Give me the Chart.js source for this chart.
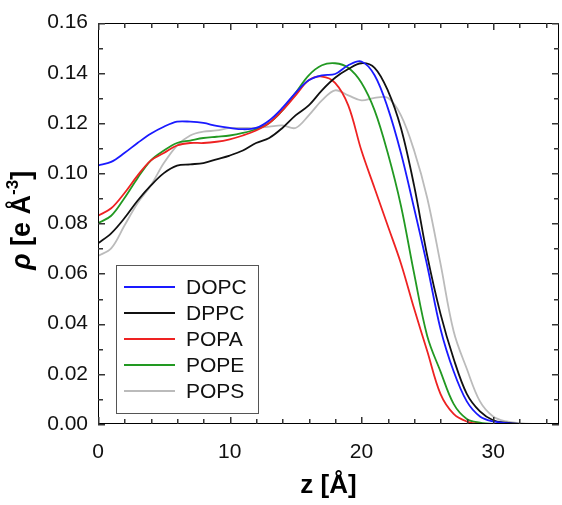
<!DOCTYPE html>
<html>
<head>
<meta charset="utf-8">
<script src="https://cdn.jsdelivr.net/npm/chart.js@4.4.1/dist/chart.umd.min.js"></script>
<style>
  html, body { margin: 0; padding: 0; background: #fff; }
  #wrap { width: 562px; height: 505px; }
</style>
</head>
<body>
<div id="wrap"><canvas id="densityChart" width="562" height="505"></canvas></div>
<script>
// z positions (Angstrom)
const z = [0, 1, 2, 3, 4, 5, 6, 7, 8, 9, 10, 11, 12, 13, 14, 15, 16, 17,
           18, 19, 20, 21, 22, 23, 24, 25, 26, 27, 28, 29, 30, 31, 32, 33, 34, 35];

// electron density profiles
const dopc = [0.103, 0.1045, 0.108, 0.112, 0.1157, 0.1185, 0.1205, 0.1205, 0.120, 0.1188,
              0.118, 0.1175, 0.118, 0.121, 0.126, 0.132, 0.137, 0.139, 0.1395, 0.143,
              0.1445, 0.139, 0.126, 0.108, 0.086, 0.063, 0.038, 0.021, 0.009, 0.003,
              0.001, 0.0003, 0, 0, 0, 0];
const dppc = [0.072, 0.076, 0.082, 0.089, 0.095, 0.100, 0.103, 0.1035, 0.104, 0.1055,
              0.107, 0.109, 0.112, 0.114, 0.118, 0.123, 0.127, 0.133, 0.138, 0.1415,
              0.1438, 0.142, 0.133, 0.118, 0.095, 0.067, 0.044, 0.026, 0.012, 0.005,
              0.0015, 0.0005, 0, 0, 0, 0];
const popa = [0.083, 0.086, 0.092, 0.099, 0.105, 0.108, 0.111, 0.112, 0.112, 0.1125,
              0.1135, 0.115, 0.117, 0.120, 0.125, 0.131, 0.137, 0.1385, 0.136, 0.127,
              0.109, 0.094, 0.079, 0.064, 0.046, 0.029, 0.012, 0.004, 0.001, 0,
              0, 0, 0, 0, 0, 0];
const pope = [0.080, 0.083, 0.090, 0.098, 0.105, 0.109, 0.112, 0.113, 0.114, 0.1145,
              0.115, 0.116, 0.1175, 0.120, 0.125, 0.132, 0.139, 0.143, 0.1438, 0.142,
              0.136, 0.125, 0.108, 0.087, 0.060, 0.035, 0.021, 0.008, 0.002, 0.0005,
              0, 0, 0, 0, 0, 0];
const pops = [0.067, 0.070, 0.079, 0.088, 0.095, 0.104, 0.111, 0.115, 0.1165, 0.117,
              0.118, 0.118, 0.118, 0.1185, 0.119, 0.118, 0.123, 0.129, 0.133, 0.131,
              0.129, 0.130, 0.130, 0.123, 0.109, 0.090, 0.064, 0.037, 0.022, 0.009,
              0.003, 0.001, 0.0003, 0, 0, 0];

const seriesNames = ['DOPC', 'DPPC', 'POPA', 'POPE', 'POPS'];
const seriesColors = ['#1a1aff', '#111111', '#ee2222', '#229922', '#bbbbbb'];
const seriesValues = [dopc, dppc, popa, pope, pops];

const xTicksMajor = [0, 10, 20, 30];
const yTickLabels = ['0.00', '0.02', '0.04', '0.06', '0.08', '0.10', '0.12', '0.14', '0.16'];

const fontFamily = "'Liberation Sans', Arial, sans-serif";

function toPoints(values) {
    return values.map((v, i) => ({ x: z[i], y: v }));
}

// box around the plot + ticks pointing inwards on all four sides
const frameTicks = {
    id: 'frameTicks',
    afterDraw(chart) {
        const c = chart.ctx;
        const a = chart.chartArea;
        const xs = chart.scales.x;
        const ys = chart.scales.y;
        const L = Math.round(a.left), R = Math.round(a.right);
        const T = Math.round(a.top), B = Math.round(a.bottom);
        c.save();
        c.fillStyle = '#000';
        // frame
        c.fillRect(L, T, R - L, 1);
        c.fillRect(L, B - 1, R - L, 1);
        c.fillRect(L, T, 1, B - T);
        c.fillRect(R - 1, T, 1, B - T);
        // x ticks every 2, bottom and top
        c.fillStyle = '#333';
        for (let v = 0; v <= 35; v += 2) {
            const px = Math.round(xs.getPixelForValue(v));
            const len = xTicksMajor.includes(v) ? 7 : 5;
            c.fillRect(px, B - len, 1.5, len);
            c.fillRect(px, T, 1.5, len);
        }
        // y ticks every 0.01, left and right
        for (let k = 0; k <= 16; k++) {
            const py = Math.round(ys.getPixelForValue(k / 100));
            const len = k % 2 === 0 ? 7 : 5;
            c.fillRect(L, py, len, 1.5);
            c.fillRect(R - len, py, len, 1.5);
        }

        // y axis title with italic rho and superscript
        c.translate(23, (a.top + a.bottom) / 2 - 3);
        c.rotate(-Math.PI / 2);
        c.fillStyle = '#000';
        c.textBaseline = 'middle';
        const parts = [
            { t: 'ρ', f: 'italic bold 27px ' + fontFamily, dy: 0 },
            { t: ' [e Å', f: 'bold 27px ' + fontFamily, dy: 0 },
            { t: '-3', f: 'bold 17px ' + fontFamily, dy: -10 },
            { t: ']', f: 'bold 27px ' + fontFamily, dy: 0 }
        ];
        let total = 0;
        parts.forEach(p => { c.font = p.f; p.w = c.measureText(p.t).width; total += p.w; });
        let x = -total / 2;
        parts.forEach(p => {
            c.font = p.f;
            c.fillText(p.t, x, p.dy);
            x += p.w;
        });
        c.restore();
    }
};

// legend box inside the plot
const insideLegend = {
    id: 'insideLegend',
    afterDatasetsDraw(chart) {
        const c = chart.ctx;
        const a = chart.chartArea;
        const left = Math.round(a.left) + 18, top = 265, w = 142, h = 148;
        c.save();
        c.fillStyle = '#fff';
        c.fillRect(left, top, w, h);
        c.strokeStyle = '#555';
        c.lineWidth = 1;
        c.strokeRect(left + 0.5, top + 0.5, w, h);
        c.font = '21px ' + fontFamily;
        c.textBaseline = 'middle';
        seriesNames.forEach((name, i) => {
            const y = top + 22 + i * 26;
            c.strokeStyle = seriesColors[i];
            c.lineWidth = 2;
            c.beginPath();
            c.moveTo(left + 8, y);
            c.lineTo(left + 59, y);
            c.stroke();
            c.fillStyle = '#111';
            c.fillText(name, left + 70, y + 1);
        });
        c.restore();
    }
};

const ctx = document.getElementById('densityChart').getContext('2d');
new Chart(ctx, {
    type: 'line',
    data: {
        datasets: seriesNames.map((name, i) => ({
            label: name,
            data: toPoints(seriesValues[i]),
            borderColor: seriesColors[i],
            borderWidth: 1.8,
            pointRadius: 0,
            fill: false,
            tension: 0.35,
            order: i
        }))
    },
    options: {
        responsive: false,
        animation: false,
        devicePixelRatio: 1,
        layout: { padding: { top: 10, right: 3, left: 0, bottom: 0 } },
        plugins: {
            legend: { display: false },
            tooltip: { enabled: false }
        },
        scales: {
            x: {
                type: 'linear',
                min: 0,
                max: 35,
                grid: { display: false, drawTicks: false },
                border: { display: false },
                ticks: {
                    stepSize: 10,
                    includeBounds: false,
                    padding: 16,
                    color: '#111',
                    font: { family: fontFamily, size: 21 },
                    maxRotation: 0
                },
                title: {
                    display: true,
                    text: 'z [Å]',
                    color: '#000',
                    font: { family: fontFamily, size: 26, weight: 'bold' },
                    padding: { top: 10 }
                },
                afterFit(scale) { scale.height = 81; }
            },
            y: {
                min: 0,
                max: 0.16,
                grid: { display: false, drawTicks: false },
                border: { display: false },
                ticks: {
                    stepSize: 0.02,
                    includeBounds: false,
                    padding: 10,
                    color: '#111',
                    font: { family: fontFamily, size: 21 },
                    callback: (v) => yTickLabels[Math.round(v / 0.02)]
                },
                afterFit(scale) { scale.width = 98; }
            }
        }
    },
    plugins: [frameTicks, insideLegend]
});
</script>
</body>
</html>
